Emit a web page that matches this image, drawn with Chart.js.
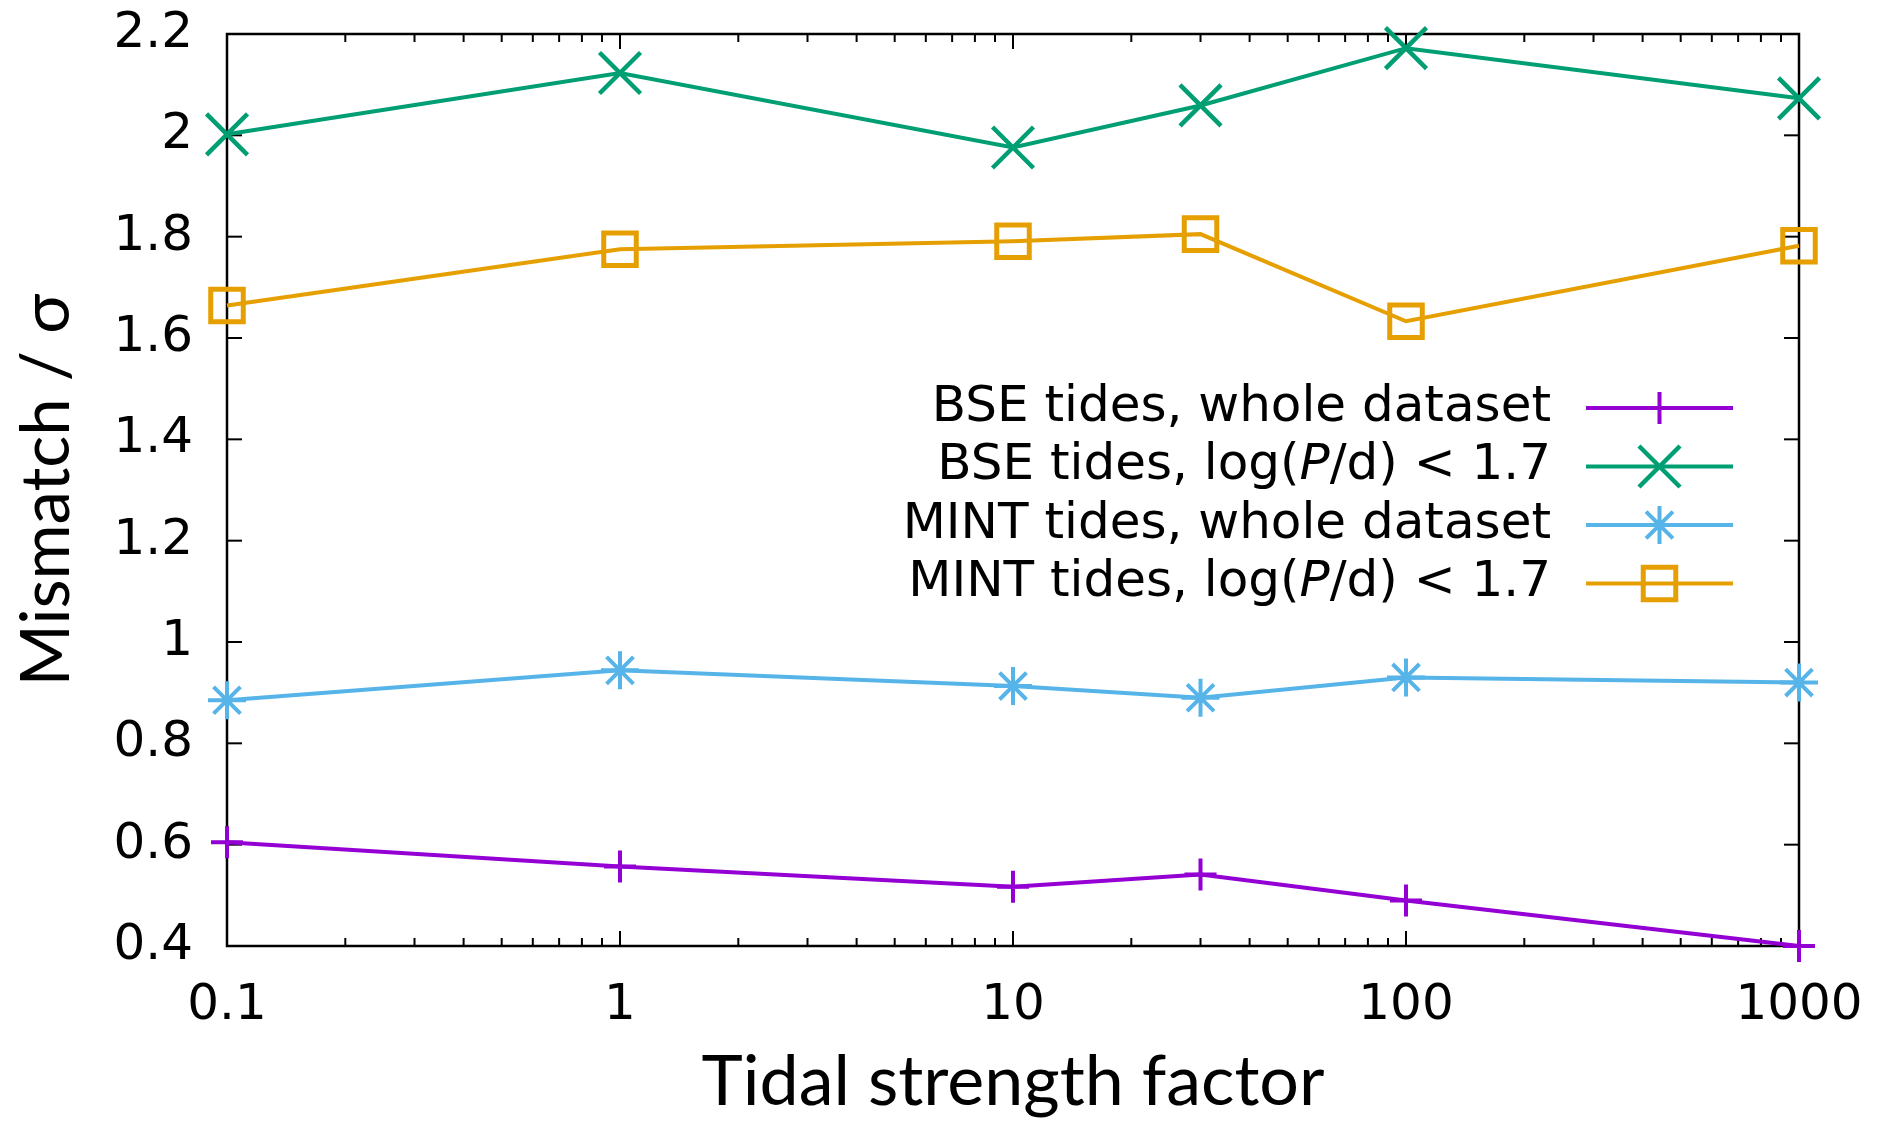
<!DOCTYPE html>
<html>
<head>
<meta charset="utf-8">
<script src="https://cdn.jsdelivr.net/npm/chart.js@4.4.1/dist/chart.umd.min.js"></script>
<style>
  html, body { margin: 0; padding: 0; background: #fff; }
  #wrap { width: 1877px; height: 1121px; position: relative; }
</style>
</head>
<body>
<div id="wrap"><canvas id="tidalChart"></canvas></div>
<script>
// tidal strength factors (x) and mismatch values per series
const tidalFactors = [0.1, 1, 10, 30, 100, 1000];
const seriesLabels = [
    'BSE tides, whole dataset',
    'BSE tides, log(P/d) < 1.7',
    'MINT tides, whole dataset',
    'MINT tides, log(P/d) < 1.7'
];
const bseWhole = [0.605, 0.557, 0.517, 0.541, 0.490, 0.400];
const bseShort = [2.002, 2.123, 1.976, 2.059, 2.172, 2.073];
const mintWhole = [0.885, 0.944, 0.913, 0.890, 0.930, 0.920];
const mintShort = [1.664, 1.775, 1.791, 1.805, 1.633, 1.782];

const xTickValues = [0.1, 1, 10, 100, 1000];
const yTickValues = [0.4, 0.6, 0.8, 1, 1.2, 1.4, 1.6, 1.8, 2, 2.2];

const colors = ['#9400d3', '#009e73', '#56b4e9', '#e69f00'];
const styles = ['cross', 'crossRot', 'star', 'rect'];
const radii = [16, 29, 19, 23];
const markerWidths = [4, 4.5, 4, 5];

function toPoints(values) {
    return tidalFactors.map((x, i) => ({ x: x, y: values[i] }));
}

// frame with inward ticks on all four sides, gnuplot style
const frameTicks = {
    id: 'frameTicks',
    beforeDatasetsDraw(chart) {
        const { ctx, chartArea: a, scales: { x, y } } = chart;
        ctx.save();
        ctx.strokeStyle = '#000';
        ctx.lineWidth = 2;
        const seg = (x1, y1, x2, y2) => {
            ctx.beginPath(); ctx.moveTo(x1, y1); ctx.lineTo(x2, y2); ctx.stroke();
        };
        xTickValues.forEach(v => {
            const px = x.getPixelForValue(v);
            seg(px, a.bottom, px, a.bottom - 15);
            seg(px, a.top, px, a.top + 15);
            if (v < 1000) {
                for (let m = 2; m <= 9; m++) {
                    const mx = x.getPixelForValue(v * m);
                    seg(mx, a.bottom, mx, a.bottom - 8);
                    seg(mx, a.top, mx, a.top + 8);
                }
            }
        });
        yTickValues.forEach(v => {
            const py = y.getPixelForValue(v);
            seg(a.left, py, a.left + 15, py);
            seg(a.right, py, a.right - 15, py);
        });
        ctx.lineWidth = 2.5;
        ctx.strokeRect(a.left, a.top, a.right - a.left, a.bottom - a.top);
        ctx.restore();
    }
};

// legend inside the plot: right-aligned text, sample to the right
const insideLegend = {
    id: 'insideLegend',
    afterDatasetsDraw(chart) {
        const ctx = chart.ctx;
        const textRight = 1551, lineL = 1586, lineR = 1733, rowTop = 408, rowGap = 58.5;
        ctx.save();
        chart.data.datasets.forEach((ds, i) => {
            const yy = rowTop + i * rowGap;
            const parts = ds.label.split(/(\bP\b)/).map(s => ({ text: s, italic: s === 'P' }));
            const fontFor = p => (p.italic ? 'italic ' : '') + '50px "DejaVu Sans"';
            let total = 0;
            parts.forEach(p => { ctx.font = fontFor(p); total += ctx.measureText(p.text).width; });
            let xx = textRight - total;
            ctx.fillStyle = '#000';
            ctx.textBaseline = 'middle';
            ctx.textAlign = 'left';
            parts.forEach(p => {
                ctx.font = fontFor(p);
                ctx.fillText(p.text, xx, yy);
                xx += ctx.measureText(p.text).width;
            });
            ctx.strokeStyle = ds.borderColor;
            ctx.lineWidth = ds.borderWidth;
            ctx.beginPath(); ctx.moveTo(lineL, yy); ctx.lineTo(lineR, yy); ctx.stroke();
            ctx.fillStyle = 'rgba(0,0,0,0)';
            ctx.lineWidth = ds.pointBorderWidth;
            Chart.helpers.drawPoint(ctx, {
                pointStyle: ds.pointStyle, radius: ds.pointRadius,
                borderWidth: ds.pointBorderWidth, rotation: 0
            }, (lineL + lineR) / 2, yy);
        });
        ctx.restore();
    }
};

const seriesValues = [bseWhole, bseShort, mintWhole, mintShort];
const datasets = seriesValues.map((vals, i) => ({
    label: seriesLabels[i],
    data: toPoints(vals),
    borderColor: colors[i],
    backgroundColor: 'rgba(0,0,0,0)',
    borderWidth: 4,
    pointStyle: styles[i],
    pointRadius: radii[i],
    pointHoverRadius: radii[i],
    pointBorderColor: colors[i],
    pointBackgroundColor: 'rgba(0,0,0,0)',
    pointBorderWidth: markerWidths[i],
    tension: 0,
    clip: false
}));

const ctx = document.getElementById('tidalChart').getContext('2d');
const tidalChart = new Chart(ctx, {
    type: 'line',
    data: { datasets: datasets },
    options: {
        responsive: true,
        maintainAspectRatio: false,
        animation: false,
        layout: { padding: { top: 34, right: 78, left: 0, bottom: 0 } },
        plugins: {
            legend: { display: false },
            tooltip: { enabled: false }
        },
        scales: {
            x: {
                type: 'logarithmic',
                min: 0.1,
                max: 1000,
                grid: { display: false },
                border: { display: false },
                afterBuildTicks: scale => { scale.ticks = xTickValues.map(v => ({ value: v })); },
                afterFit: scale => {
                    scale.height = 175;
                    scale.paddingLeft = 0;
                    scale.paddingRight = 0;
                },
                ticks: {
                    autoSkip: false,
                    maxRotation: 0,
                    padding: 22,
                    color: '#000',
                    font: { family: 'DejaVu Sans', size: 50 },
                    callback: v => String(v)
                },
                title: {
                    display: true,
                    text: 'Tidal strength factor',
                    color: '#000',
                    font: { family: 'Lato', size: 70, lineHeight: 1.1 },
                    padding: { top: 0, bottom: 0 }
                }
            },
            y: {
                min: 0.4,
                max: 2.2,
                grid: { display: false },
                border: { display: false },
                afterBuildTicks: scale => { scale.ticks = yTickValues.map(v => ({ value: v })); },
                afterFit: scale => {
                    scale.width = 227;
                    scale.paddingTop = 0;
                    scale.paddingBottom = 0;
                },
                ticks: {
                    autoSkip: false,
                    padding: 26,
                    color: '#000',
                    font: { family: 'DejaVu Sans', size: 50 },
                    callback: v => String(parseFloat(v.toFixed(1)))
                },
                title: {
                    display: true,
                    text: 'Mismatch / σ',
                    color: '#000',
                    font: { family: 'Lato', size: 67, lineHeight: 1.2 },
                    padding: { top: 7, bottom: 0 }
                }
            }
        }
    },
    plugins: [frameTicks, insideLegend]
});
</script>
</body>
</html>
